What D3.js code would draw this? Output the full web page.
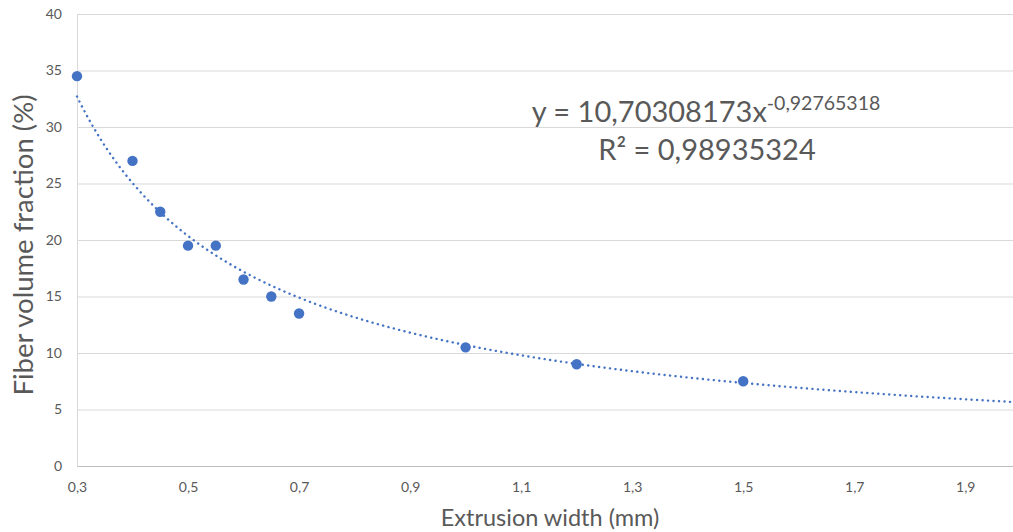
<!DOCTYPE html>
<html>
  <head>
  <title>Fiber volume fraction</title>
  <script src="https://cdn.jsdelivr.net/npm/d3@7"></script>
  <style type="text/css">
    body { margin: 0; background: #fff; overflow: hidden; }
    svg { display: block; }
    text { font-family: Lato, "Open Sans", sans-serif; fill: #595959; }
  </style>
  </head>
  <body>
  </body>
  <script type="text/javascript">
    // data
    var widths = [0.3, 0.4, 0.45, 0.5, 0.55, 0.6, 0.65, 0.7, 1.0, 1.2, 1.5];
    var fractions = [34.5, 27, 22.5, 19.5, 19.5, 16.5, 15, 13.5, 10.5, 9, 7.5];
    var xTicks = [0.3, 0.5, 0.7, 0.9, 1.1, 1.3, 1.5, 1.7, 1.9];
    var yTicks = [0, 5, 10, 15, 20, 25, 30, 35, 40];
    // power trendline y = a * x^b (from the label)
    var trendA = 10.70308173;
    var trendB = -0.92765318;

    var w = 1013, h = 532;
    var plotLeft = 77, plotRight = 1013, plotTop = 14, plotBottom = 466;

    var x = d3.scaleLinear().domain([0.3, 1.986]).range([plotLeft, plotRight]);
    var y = d3.scaleLinear().domain([0, 40]).range([plotBottom, plotTop]);
    var fmt = function(d) { return d3.format(".1f")(d).replace(".", ","); };

    var svg = d3.select("body").append("svg")
      .attr("width", w)
      .attr("height", h);

    // gridlines + y axis
    var gy = svg.append("g")
      .attr("transform", "translate(" + plotLeft + ",0)")
      .call(d3.axisLeft(y).tickValues(yTicks).tickSize(-(plotRight - plotLeft)).tickPadding(15).tickFormat(d3.format("d")));
    gy.select(".domain").attr("stroke", "#d9d9d9");
    gy.selectAll(".tick line").attr("stroke", "#d9d9d9");
    gy.selectAll(".tick text").style("font-size", "14px").attr("fill", "#595959");

    var gx = svg.append("g")
      .attr("transform", "translate(0," + plotBottom + ")")
      .call(d3.axisBottom(x).tickValues(xTicks).tickSize(0).tickPadding(16).tickFormat(fmt));
    gx.select(".domain").attr("stroke", "#bfbfbf").attr("stroke-width", 1.2);
    gx.selectAll(".tick text").style("font-size", "14px").attr("fill", "#595959");

    // trendline
    var trendX = d3.range(0.3, 1.99, 0.005);
    var line = d3.line()
      .x(function(d) { return x(d); })
      .y(function(d) { return y(trendA * Math.pow(d, trendB)); });
    svg.append("path")
      .datum(trendX)
      .attr("d", line)
      .attr("fill", "none")
      .attr("stroke", "#4472c4")
      .attr("stroke-width", 2.4)
      .attr("stroke-linecap", "round")
      .attr("stroke-dasharray", "0.1,5.4");

    // points
    svg.selectAll("circle")
      .data(widths)
      .enter()
      .append("circle")
      .attr("cx", function(d) { return x(d); })
      .attr("cy", function(d, i) { return y(fractions[i]); })
      .attr("r", 5.2)
      .attr("fill", "#4472c4");

    // equation
    var eq = svg.append("text")
      .attr("x", 706)
      .attr("y", 122)
      .attr("text-anchor", "middle")
      .style("font-size", "29px");
    eq.append("tspan").text("y = 10,70308173x");
    eq.append("tspan").attr("dy", -12).style("font-size", "19.5px").text("-0,92765318");

    svg.append("text")
      .attr("x", 707)
      .attr("y", 160)
      .attr("text-anchor", "middle")
      .style("font-size", "29px")
      .text("R² = 0,98935324");

    // axis titles
    svg.append("text")
      .attr("x", 550)
      .attr("y", 526)
      .attr("text-anchor", "middle")
      .style("font-size", "23.5px")
      .text("Extrusion width (mm)");

    svg.append("text")
      .attr("transform", "translate(33,245) rotate(-90)")
      .attr("text-anchor", "middle")
      .style("font-size", "27.5px")
      .text("Fiber volume fraction (%)");
  </script>
</html>
